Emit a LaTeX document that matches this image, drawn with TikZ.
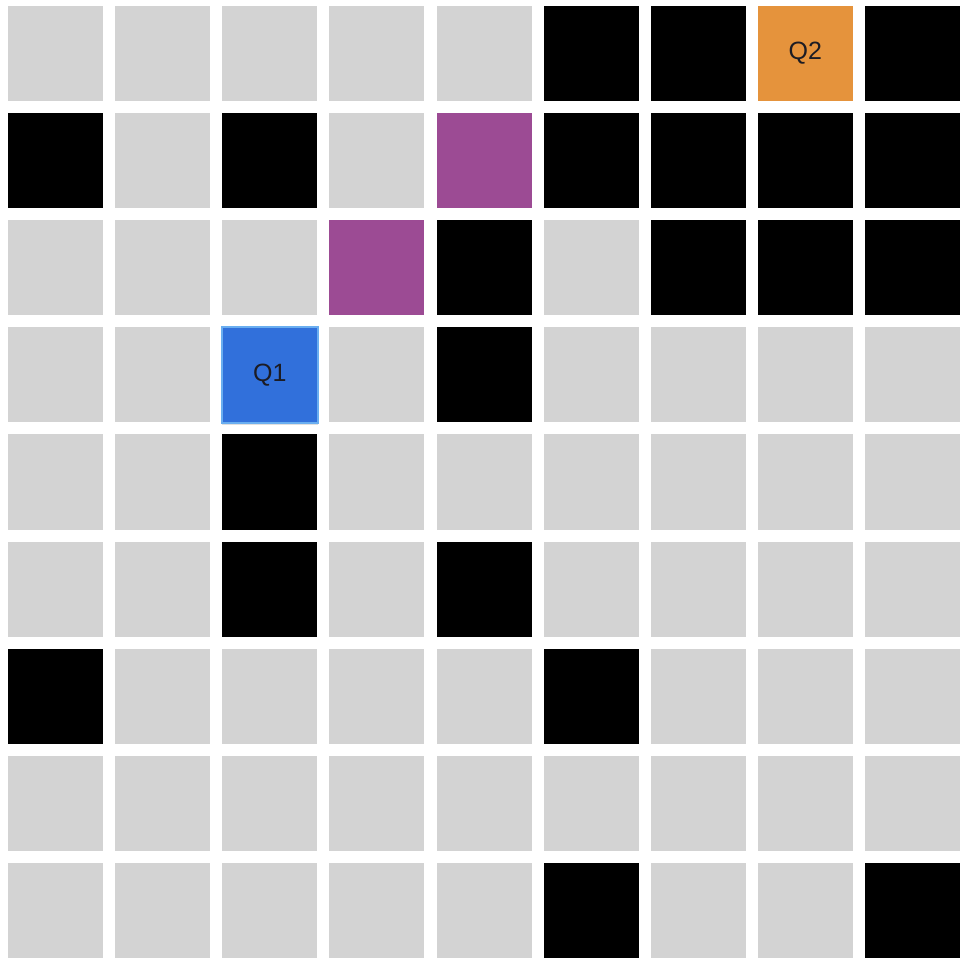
\documentclass[tikz,border=0pt]{standalone}
\usepackage{fontspec}
\setmainfont{Liberation Sans}
\usetikzlibrary{shadows}
\definecolor{cgrey}{HTML}{D3D3D3}
\definecolor{cpurple}{HTML}{9C4B94}
\definecolor{corange}{HTML}{E5933C}
\definecolor{cblue}{HTML}{3170DB}
\definecolor{cbluebd}{HTML}{6AAEF0}
\definecolor{ctext}{HTML}{1C1C24}
\tikzset{
  cell/.style={minimum width=95pt,minimum height=95pt,inner sep=0pt,outer sep=0pt,anchor=north west},
  Gc/.style={cell,fill=cgrey},
  Bc/.style={cell,fill=black},
  Pc/.style={cell,fill=cpurple},
  Ec/.style={cell},
  Oc/.style={cell,fill=corange,text=ctext,font=\fontsize{25}{25}\selectfont},
  Qc/.style={cell,fill=cblue,draw=cbluebd,line width=1.5pt,text=ctext,font=\fontsize{25}{25}\selectfont,
    drop shadow={shadow xshift=0pt,shadow yshift=-2pt,opacity=0.25}},
}
\begin{document}
\begin{tikzpicture}[x=1pt,y=-1pt]
\useasboundingbox (0,0) rectangle (970,968);
\foreach \r/\row in {
  0/{Gc,Gc,Gc,Gc,Gc,Bc,Bc,Ec,Bc},
  1/{Bc,Gc,Bc,Gc,Pc,Bc,Bc,Bc,Bc},
  2/{Gc,Gc,Gc,Pc,Bc,Gc,Bc,Bc,Bc},
  3/{Gc,Gc,Ec,Gc,Bc,Gc,Gc,Gc,Gc},
  4/{Gc,Gc,Bc,Gc,Gc,Gc,Gc,Gc,Gc},
  5/{Gc,Gc,Bc,Gc,Bc,Gc,Gc,Gc,Gc},
  6/{Bc,Gc,Gc,Gc,Gc,Bc,Gc,Gc,Gc},
  7/{Gc,Gc,Gc,Gc,Gc,Gc,Gc,Gc,Gc},
  8/{Gc,Gc,Gc,Gc,Gc,Bc,Gc,Gc,Bc}}{
  \foreach \s [count=\c from 0] in \row {
    \node[\s] (c\r-\c) at ({8+107.125*\c},{6+107.125*\r}) {};
  }
}
\node[Oc] (q2) at ({8+107.125*7},{6}) {Q2};
\node[Qc,minimum width=96pt,minimum height=96pt,anchor=center] (q1) at ({8+107.125*2+47.5},{6+107.125*3+47.5}) {Q1};
\end{tikzpicture}
\end{document}
